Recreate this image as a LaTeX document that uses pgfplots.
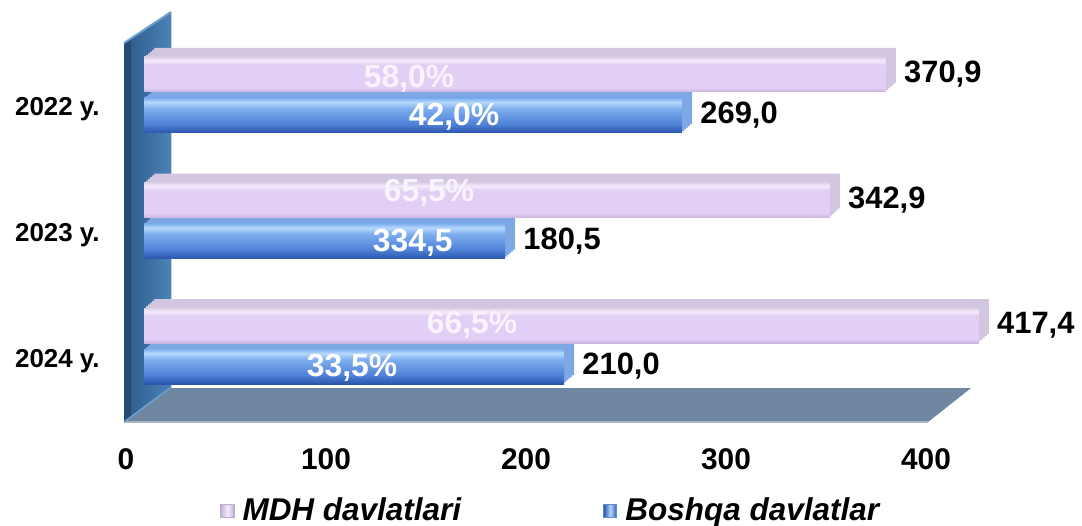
\documentclass[border=0pt]{standalone}
\usepackage{pgfplots}
\pgfplotsset{compat=1.18}
\usepackage{fontspec}
\setmainfont{Liberation Sans}

% bar colours
\definecolor{mdhlow}{HTML}{C9B4E0}
\definecolor{mdhface}{HTML}{E2CFF6}
\definecolor{mdhhigh}{HTML}{F4EAFC}
\definecolor{mdhtopc}{HTML}{DCD0E8}
\definecolor{mdhside}{HTML}{D3C6E0}
\definecolor{mdhedge}{HTML}{BDB0CC}
\definecolor{blulow}{HTML}{2A56AC}
\definecolor{blumid}{HTML}{4F82D8}
\definecolor{bluupper}{HTML}{7EAEEF}
\definecolor{bluhigh}{HTML}{B6D8FB}
\definecolor{bluside}{HTML}{7DA8E4}
\definecolor{bluedge}{HTML}{5E8CD0}
% wall and floor
\definecolor{wallL}{HTML}{2C5B88}
\definecolor{wallR}{HTML}{4B82B8}
\definecolor{wallD}{HTML}{234C75}
\definecolor{wallHi}{HTML}{6E9FCF}
\definecolor{floorC}{HTML}{7087A1}
\definecolor{floorEdge}{HTML}{A9B6C4}

% vertical shadings for the front faces (inner 25bp..75bp span the bar)
\pgfdeclareverticalshading{mdhshade}{100bp}{%
  color(0bp)=(mdhlow); color(25bp)=(mdhlow); color(31bp)=(mdhface);
  color(64bp)=(mdhface); color(70bp)=(mdhhigh); color(75bp)=(mdhtopc);
  color(100bp)=(mdhtopc)}
\pgfdeclareverticalshading{blushade}{100bp}{%
  color(0bp)=(blulow); color(25bp)=(blulow); color(38bp)=(blumid);
  color(60bp)=(bluupper); color(69bp)=(bluhigh); color(75bp)=(bluupper);
  color(100bp)=(bluupper)}

% one shaded front face per bar: value, category, shift, shading
\newcommand{\frontbar}[4]{%
  \addplot[forget plot, xbar, bar shift=#3, bar width=17.5bp,
    shade, shading=#4, draw=none] coordinates {(#1,#2)};}

\begin{document}
\begin{tikzpicture}
\begin{axis}[
  x=1bp, y=62.75bp,
  xmin=-12, xmax=420, ymin=-0.62, ymax=2.7,
  clip=false,
  axis line style={draw=none},
  tick style={draw=none},
  major tick length=0pt,
  xtick={0,100,200,300,400},
  ytick={0,1,2},
  yticklabels={2024 y.,2023 y.,2022 y.},
  /pgf/number format/assume math mode=true,
  xticklabel style={font=\fontsize{15}{18}\selectfont\bfseries,
    anchor=base, inner sep=0pt, xshift=-9bp, yshift=-23bp},
  yticklabel style={font=\fontsize{13}{16}\selectfont\bfseries,
    anchor=base east, inner sep=0pt, xshift=-10bp, yshift=-10.5bp},
  legend columns=2,
  legend style={at={(axis description cs:0.502,-0.2093)}, anchor=center,
    draw=none, fill=none, inner sep=0pt,
    font=\fontsize{15.8}{18}\selectfont\bfseries\itshape,
    nodes={inner sep=0pt, inner xsep=4bp},
    /tikz/every even column/.append style={column sep=67bp}},
]
% side wall
\fill[left color=wallL, right color=wallR]
  (axis cs:-10,2.414) -- (axis cs:13.5,2.661) -- (axis cs:13.5,-0.335)
  -- (axis cs:-10,-0.606) -- cycle;
\fill[wallD] (axis cs:-10,2.414) -- (axis cs:-6.5,2.45) -- (axis cs:-6.5,-0.58)
  -- (axis cs:-10,-0.606) -- cycle;
\draw[wallHi, line width=1bp] (axis cs:-10,2.414) -- (axis cs:13.5,2.661);
% floor
\fill[floorC] (axis cs:-10,-0.606) -- (axis cs:13,-0.335) -- (axis cs:413.5,-0.335)
  -- (axis cs:392,-0.606) -- cycle;
\draw[floorEdge, line width=0.8bp] (axis cs:-10,-0.606) -- (axis cs:392,-0.606);
\draw[wallHi, line width=0.8bp] (axis cs:-10,-0.606) -- (axis cs:13,-0.335);

\addlegendimage{legend image code/.code={%
  \draw[mdhedge, line width=0.6bp, left color=mdhlow, right color=mdhlow,
    middle color=mdhhigh] (0bp,-3.3bp) rectangle (6.5bp,3.3bp);}}
\addlegendentry{MDH davlatlari}
\addlegendimage{legend image code/.code={%
  \draw[bluedge, line width=0.6bp, left color=blulow, right color=blulow,
    middle color=bluhigh] (0bp,-3.3bp) rectangle (6.5bp,3.3bp);}}
\addlegendentry{Boshqa davlatlar}

% Boshqa davlatlar: depth, then front faces
\pgfplotsinvokeforeach{1,2,3,4,5}{
\addplot[forget plot, xbar, bar shift=-10.25bp, bar width=17.5bp,
  fill=bluside, draw=none, xshift=#1bp, yshift=#1*0.9bp]
  coordinates {(210,0) (180.5,1) (269,2)};
}
\frontbar{210}{0}{-10.25bp}{blushade}
\frontbar{180.5}{1}{-10.25bp}{blushade}
\frontbar{269}{2}{-10.25bp}{blushade}

% MDH davlatlari: depth, then front faces
\pgfplotsinvokeforeach{1,2,3,4,5}{
\addplot[forget plot, xbar, bar shift=10.25bp, bar width=17.5bp,
  fill=mdhside, draw=none, xshift=#1bp, yshift=#1*0.9bp]
  coordinates {(417.4,0) (342.9,1) (370.9,2)};
}
\frontbar{417.4}{0}{10.25bp}{mdhshade}
\frontbar{342.9}{1}{10.25bp}{mdhshade}
\frontbar{370.9}{2}{10.25bp}{mdhshade}

% value labels at the bar ends
\addplot[forget plot, xbar, bar shift=-10.25bp, bar width=17.5bp,
  draw=none, fill=none, point meta=x,
  nodes near coords={\pgfmathprintnumber[fixed,fixed zerofill,precision=1,use comma]{\pgfplotspointmeta}},
  every node near coord/.append style={anchor=west, inner sep=0pt, xshift=9bp,
    yshift=-10.25bp, text=black, font=\fontsize{15.5}{18}\selectfont\bfseries}]
  coordinates {(210,0) (180.5,1) (269,2)};
\addplot[forget plot, xbar, bar shift=10.25bp, bar width=17.5bp,
  draw=none, fill=none, point meta=x,
  nodes near coords={\pgfmathprintnumber[fixed,fixed zerofill,precision=1,use comma]{\pgfplotspointmeta}},
  every node near coord/.append style={anchor=west, inner sep=0pt, xshift=9bp,
    yshift=10.25bp, text=black, font=\fontsize{15.5}{18}\selectfont\bfseries}]
  coordinates {(417.4,0) (342.9,1) (370.9,2)};

% share labels inside the bars
\begin{scope}[every node/.style={font=\fontsize{16}{19}\selectfont\bfseries, inner sep=0pt}]
\node[text=mdhhigh!60!white] at (axis cs:132.5,2.127) {58,0\%};
\node[text=white] at (axis cs:155,1.825) {42,0\%};
\node[text=mdhhigh!60!white] at (axis cs:142.5,1.219) {65,5\%};
\node[text=white] at (axis cs:134.4,0.821) {334,5};
\node[text=mdhhigh!60!white] at (axis cs:164,0.167) {66,5\%};
\node[text=white] at (axis cs:104,-0.175) {33,5\%};
\end{scope}

\coordinate (pbl) at (axis cs:-72,-1.4263);
\coordinate (ptr) at (axis cs:469,2.757);
\end{axis}
\pgfresetboundingbox
\path[use as bounding box] (pbl) rectangle (ptr);
\end{tikzpicture}
\end{document}
